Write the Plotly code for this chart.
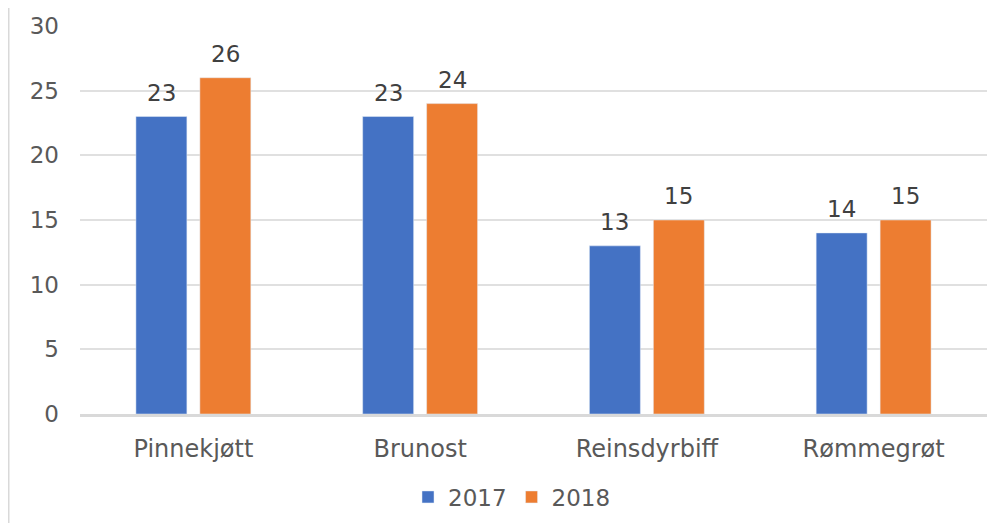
import plotly.graph_objects as go

categories = ["Pinnekjøtt", "Brunost", "Reinsdyrbiff", "Rømmegrøt"]
series_2017 = [23, 23, 13, 14]
series_2018 = [26, 24, 15, 15]
y_ticks = [0, 5, 10, 15, 20, 25, 30]

FONT = "DejaVu Sans"

fig = go.Figure()
fig.add_trace(go.Bar(name="2017", x=categories, y=series_2017, marker_color="#4472C4"))
fig.add_trace(go.Bar(name="2018", x=categories, y=series_2018, marker_color="#ED7D31"))

# data labels above bars
annotations = []
for vals, dx in ((series_2017, -32), (series_2018, 32)):
    for c, v in zip(categories, vals):
        annotations.append(dict(x=c, y=v, xref="x", yref="y", text=str(v), showarrow=False,
                                xshift=dx, yshift=9, yanchor="bottom",
                                font=dict(size=23, color="#404040", family=FONT)))

# page has an 8px body margin; figure starts at (8, 8)
W, H = 989, 515
L, R, T, B = 72, 10, 18, 109
PH = H - T - B
PW = W - L - R

fig.update_layout(
    width=W, height=H,
    margin=dict(l=L, r=R, t=T, b=B, autoexpand=False),
    paper_bgcolor="white", plot_bgcolor="white",
    barmode="group", bargap=0.436, bargroupgap=0.203,
    font=dict(family=FONT, size=23, color="#595959"),
    showlegend=True,
    legend=dict(orientation="h", x=(512 - 80) / PW, xanchor="center",
                y=(414 - 497) / PH, yanchor="middle",
                font=dict(size=23, color="#595959", family=FONT), itemwidth=30),
    yaxis=dict(range=[0, 30], tickvals=y_ticks, showgrid=True, gridcolor="#e0e0e0",
               gridwidth=2, zeroline=False, showline=False, ticks="",
               ticklabelstandoff=20,
               tickfont=dict(size=23, color="#595959", family=FONT)),
    xaxis=dict(showline=True, linecolor="#d9d9d9", linewidth=2.5, ticks="",
               ticklabelstandoff=11,
               tickfont=dict(size=24, color="#595959", family=FONT)),
    annotations=annotations,
    shapes=[dict(type="line", xref="paper", yref="paper",
                 x0=(0 - L) / PW, x1=(0 - L) / PW, y0=-B / PH, y1=1 + T / PH,
                 line=dict(color="#d9d9d9", width=3))],
)

fig.write_html("out.html")
